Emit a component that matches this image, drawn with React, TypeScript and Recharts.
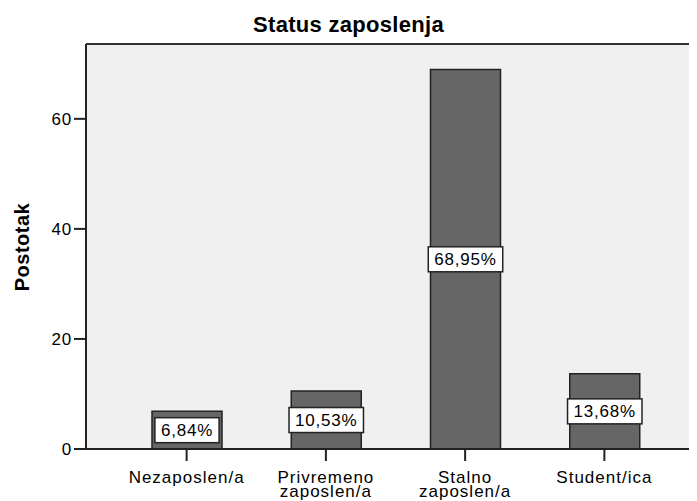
import React from 'react';
import { BarChart, Bar, XAxis, YAxis, CartesianGrid, ReferenceLine, LabelList } from 'recharts';

const categories = ['Nezaposlen/a', 'Privremeno zaposlen/a', 'Stalno zaposlen/a', 'Student/ica'];
const percents = [6.84, 10.53, 68.95, 13.68];
const yTicks = [0, 20, 40, 60];

const data = categories.map((name, i) => ({ name, value: percents[i] }));

const FONT = '"Liberation Sans", Arial, sans-serif';

// rough Arial advance widths, used to size the white label boxes
const charW = (c: string) => (c === ',' ? 0.278 : c === '%' ? 0.889 : 0.556);

const XTick = (props: any) => {
    const { x, y, payload } = props;
    const words: string[] = String(payload.value).split(' ');
    return (
        <g>
            {words.map((w, i) => (
                <text key={i} x={x} y={y + 20 + i * 14} textAnchor="middle" fontSize={17} letterSpacing={1} fill="#000" fontFamily={FONT}>
                    {w}
                </text>
            ))}
        </g>
    );
};

const ValueLabel = (props: any) => {
    const { x, y, width, height, value } = props;
    const text = value.toFixed(2).replace('.', ',') + '%';
    const cx = x + width / 2;
    const cy = y + height / 2;
    const tw = text.split('').reduce((s: number, c: string) => s + charW(c) * 17 + 0.8, 0);
    const w = tw + 12;
    const h = 25;
    return (
        <g>
            <rect x={cx - w / 2} y={cy - h / 2} width={w} height={h} fill="#fff" stroke="#222" strokeWidth={1.5} />
            <text x={cx} y={cy + 6} textAnchor="middle" fontSize={17} letterSpacing={0.8} fill="#000" fontFamily={FONT}>
                {text}
            </text>
        </g>
    );
};

const App: React.FC = () => {
    return (
        <div style={{ margin: '-8px 0 0 -8px', width: 697, height: 501, background: '#fff', position: 'relative' }}>
            <div style={{ position: 'absolute', top: 12, left: 0, width: 697, textAlign: 'center', fontFamily: FONT, fontWeight: 'bold', fontSize: 22, letterSpacing: 0.3 }}>
                Status zaposlenja
            </div>
            <div style={{ position: 'absolute', left: 22, top: 247, transform: 'translate(-50%, -50%) rotate(-90deg)', fontFamily: FONT, fontWeight: 'bold', fontSize: 20, letterSpacing: 0.5, whiteSpace: 'nowrap' }}>
                Postotak
            </div>
            <BarChart width={697} height={501} data={data} margin={{ top: 44, right: 0, left: 0, bottom: 0 }} barSize={70}>
                <CartesianGrid fill="#f0f0f0" horizontal={false} vertical={false} />
                <ReferenceLine y={73.6} stroke="#333" strokeWidth={2} />
                <XAxis
                    dataKey="name"
                    height={52}
                    tick={<XTick />}
                    interval={0}
                    tickSize={12}
                    padding={{ left: 31, right: 23 }}
                    axisLine={{ stroke: '#222', strokeWidth: 2 }}
                    tickLine={{ stroke: '#222', strokeWidth: 2 }}
                />
                <YAxis
                    width={86}
                    domain={[0, 73.6]}
                    ticks={yTicks}
                    tickSize={12}
                    tick={{ fontSize: 17, fill: '#000', fontFamily: FONT, letterSpacing: 0.8 }}
                    axisLine={{ stroke: '#222', strokeWidth: 2 }}
                    tickLine={{ stroke: '#222', strokeWidth: 2 }}
                />
                <Bar dataKey="value" fill="#666666" stroke="#222" strokeWidth={1.5} isAnimationActive={false}>
                    <LabelList dataKey="value" content={<ValueLabel />} />
                </Bar>
            </BarChart>
        </div>
    );
};

export default App;
